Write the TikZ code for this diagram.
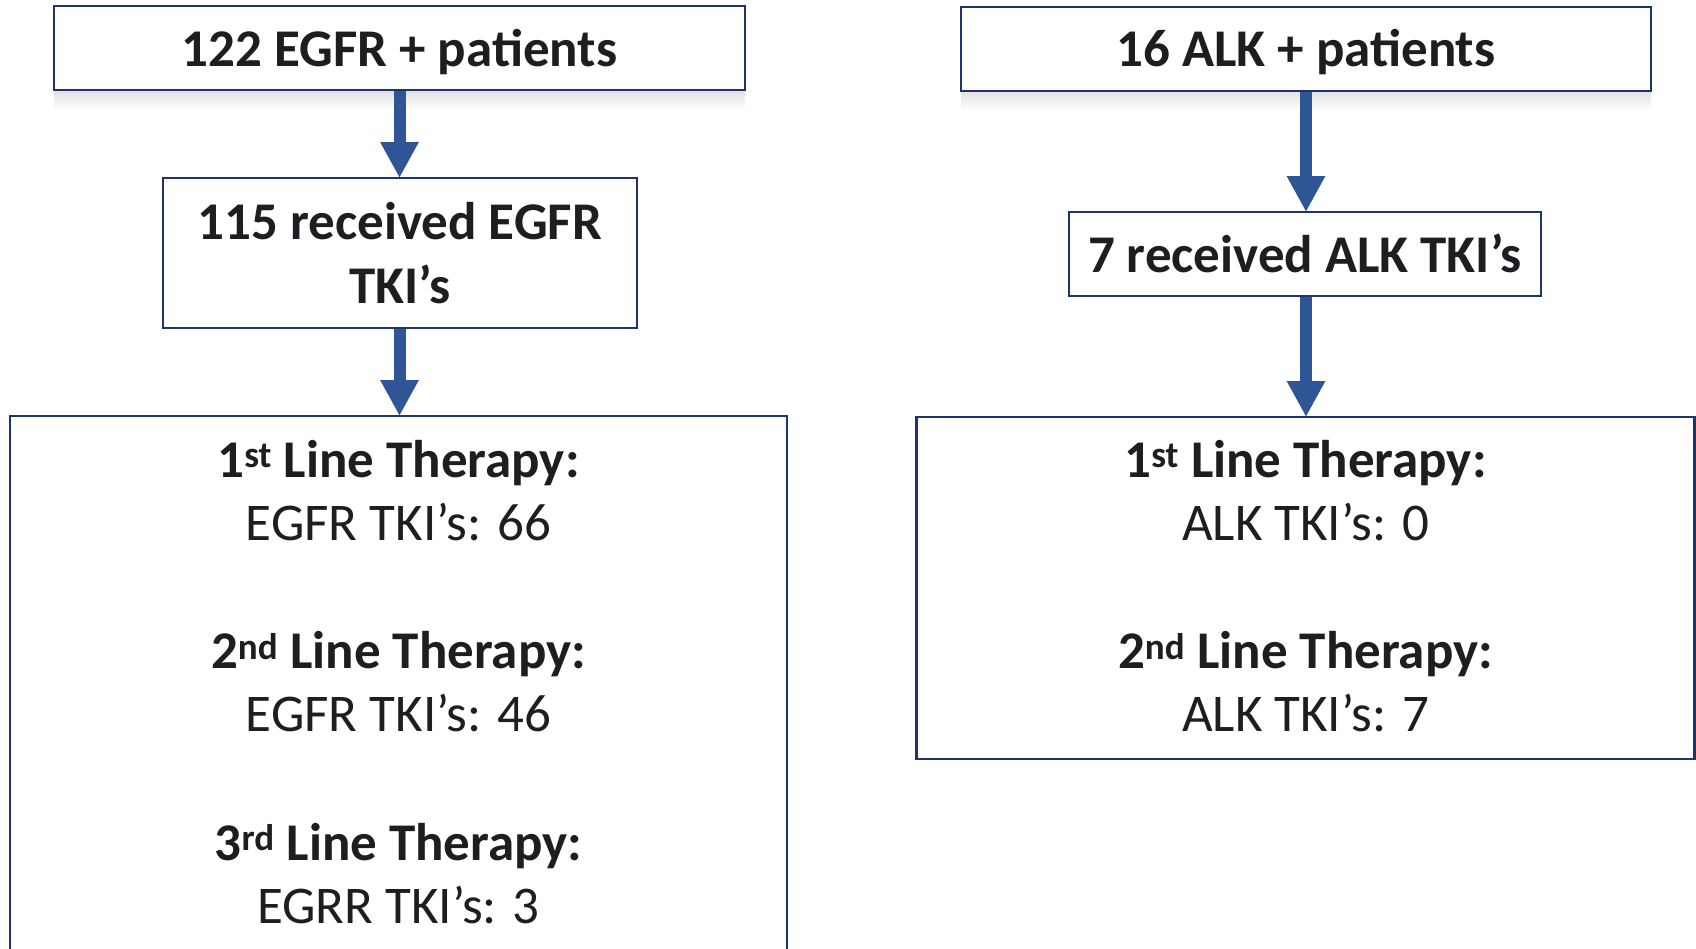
\documentclass[tikz,border=0pt]{standalone}
\usepackage{fontspec}
\setmainfont{Carlito}
\usetikzlibrary{arrows.meta}
\definecolor{frame}{HTML}{1F3468}
\definecolor{flow}{HTML}{2F5597}
\definecolor{ink}{HTML}{1C1E21}
\tikzset{
  box/.style={draw=frame, line width=2.4pt, fill=white, rectangle, inner sep=0pt, outer sep=0pt},
  headtxt/.style={font=\fontsize{53}{63.5}\selectfont\bfseries, text=ink, inner sep=0pt, anchor=base},
  bodytxt/.style={font=\fontsize{53}{63.5}\selectfont, text=ink, inner sep=0pt, anchor=base},
  flowarrow/.style={draw=flow, line width=12pt, -{Triangle[width=36pt,length=36pt]}, shorten <=1.2pt},
  glow/.style={top color=gray!22, bottom color=white, draw=none}
}
\begin{document}
\begin{tikzpicture}[x=1pt,y=-1pt]
  \clip (0,0) rectangle (1696,948);
  \fill[white] (0,0) rectangle (1696,948);

  % faint reflections under the two top boxes
  \shade[glow] (54,91) rectangle (745,110);
  \shade[glow] (961,92) rectangle (1651,111);

  % ---------------- EGFR column ----------------
  \node[box, minimum width=691pt, minimum height=84pt] (egfr) at (399.5,48) {};
  \node[box, minimum width=474pt, minimum height=150pt] (egfrtki) at (400,253) {};
  \node[box, minimum width=777pt, minimum height=600pt] (egfrlines) at (398.5,716) {};

  \node[headtxt] (egfrT) at (399.5,66) {122 EGFR + patients};
  \node[headtxt] (egfrtkiA) at (400,239) {115 received EGFR};
  \node[headtxt] (egfrtkiB) at (400,303.5) {TKI’s};

  \node[headtxt] (eL1) at (398.5,477) {1\textsuperscript{st} Line Therapy:};
  \node[bodytxt] (eV1) at (398.5,540) {EGFR TKI’s: 66};
  \node[headtxt] (eL2) at (398.5,668.5) {2\textsuperscript{nd} Line Therapy:};
  \node[bodytxt] (eV2) at (398.5,731) {EGFR TKI’s: 46};
  \node[headtxt] (eL3) at (398.5,860) {3\textsuperscript{rd} Line Therapy:};
  \node[bodytxt] (eV3) at (398.5,923) {EGRR TKI’s: 3};

  \draw[flowarrow] (egfr.south) -- (egfr.south |- egfrtki.north);
  \draw[flowarrow] (egfr.south |- egfrtki.south) -- (egfr.south |- egfrlines.north);

  % ---------------- ALK column ----------------
  \node[box, minimum width=690pt, minimum height=84pt] (alk) at (1306,49) {};
  \node[box, minimum width=472pt, minimum height=84pt] (alktki) at (1305,254) {};
  \node[box, minimum width=778pt, minimum height=342pt] (alklines) at (1305.5,588) {};

  \node[headtxt] (alkT) at (1306,66) {16 ALK + patients};
  \node[headtxt] (alktkiT) at (1305,272.5) {7 received ALK TKI’s};

  \node[headtxt] (aL1) at (1305.5,477) {1\textsuperscript{st} Line Therapy:};
  \node[bodytxt] (aV1) at (1305.5,540) {ALK TKI’s: 0};
  \node[headtxt] (aL2) at (1305.5,668.5) {2\textsuperscript{nd} Line Therapy:};
  \node[bodytxt] (aV2) at (1305.5,731.5) {ALK TKI’s: 7};

  \draw[flowarrow] (alk.south) -- (alk.south |- alktki.north);
  \draw[flowarrow] (alk.south |- alktki.south) -- (alk.south |- alklines.north);
\end{tikzpicture}
\end{document}
